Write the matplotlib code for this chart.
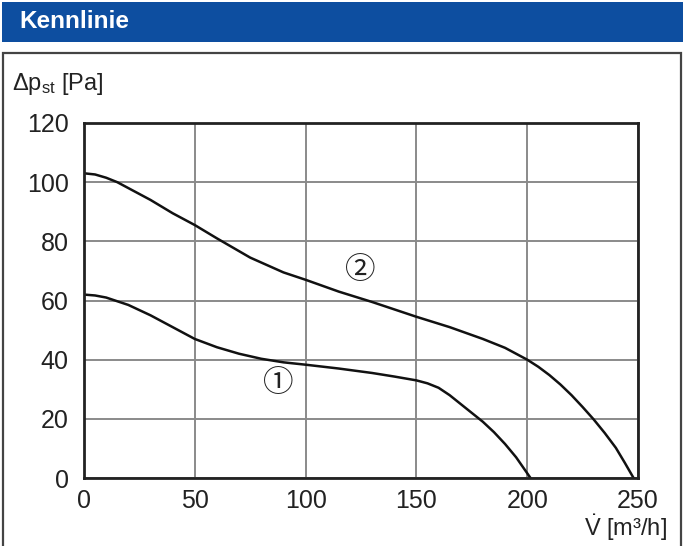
import matplotlib as mpl
import matplotlib.pyplot as plt
from matplotlib.patches import Rectangle

mpl.use('Agg')

plt.rcParams['font.family'] = ['Liberation Sans', 'DejaVu Sans']
plt.rcParams['mathtext.fontset'] = 'custom'
plt.rcParams['mathtext.rm'] = 'Liberation Sans'
plt.rcParams['mathtext.it'] = 'Liberation Sans'

# Kennlinie 1
x_1 = [0, 5, 10, 20, 30, 40, 50, 60, 70, 80, 90, 100, 115, 130, 140, 150, 155, 160, 165, 170,
       175, 180, 185, 190, 195, 201.5]
y_1 = [62, 61.7, 61, 58.5, 55, 51, 47, 44.2, 42, 40.3, 39.1, 38.3, 37, 35.5, 34.3, 33, 32, 30.5,
       28, 25, 22, 19, 15.5, 11.5, 7, 0]

# Kennlinie 2
x_2 = [0, 5, 10, 15, 20, 30, 40, 50, 60, 75, 90, 100, 115, 130, 150, 165, 180, 190, 200, 205,
       210, 215, 220, 225, 230, 235, 240, 244, 248]
y_2 = [103, 102.6, 101.5, 100, 98, 94, 89.5, 85.5, 81, 74.5, 69.5, 67, 63, 59.5, 54.5, 51, 47,
       44, 40, 37.6, 34.8, 31.6, 28, 24, 19.8, 15.2, 10.2, 5.2, 0]

x_ticks = [0, 50, 100, 150, 200, 250]
y_ticks = [0, 20, 40, 60, 80, 100, 120]

fig = plt.figure(figsize=(6.83, 5.46), dpi=100)
W, H = 683, 546

# Kopfzeile
fig.patches.append(Rectangle((2 / W, 1 - 42 / H), 681 / W, 40 / H, transform=fig.transFigure,
                             facecolor='#0d4ea0', edgecolor='none'))
fig.text(19 / W, 1 - 22 / H, 'Kennlinie', color='white', fontsize=17.5, fontweight='bold',
         va='center', ha='left')

# Rahmen
fig.patches.append(Rectangle((3 / W, -0.01), 678 / W, 1 - 53 / H + 0.01, transform=fig.transFigure,
                             facecolor='none', edgecolor='#444444', linewidth=1.6))

ax = fig.add_axes([84 / W, 1 - 478 / H, (638 - 84) / W, (478 - 123) / H])
ax.plot(x_1, y_1, color='#111111', linewidth=1.8)
ax.plot(x_2, y_2, color='#111111', linewidth=1.8)

ax.set_xlim(0, 250)
ax.set_ylim(0, 120)
ax.set_xticks(x_ticks)
ax.set_yticks(y_ticks)
ax.grid(True, color='#8a8a8a', linewidth=1.4)
ax.set_axisbelow(True)
ax.tick_params(length=0, labelsize=18, colors='#222222')
ax.tick_params(axis='x', pad=8)
ax.tick_params(axis='y', pad=11)
for s in ax.spines.values():
    s.set_color('#222222')
    s.set_linewidth(2)

ax.text(124.5, 70.3, '\u2461', fontsize=22, ha='center', va='center', color='#222222',
        family=['Noto Sans CJK JP', 'DejaVu Sans'])
ax.text(87.6, 31.8, '\u2460', fontsize=22, ha='center', va='center', color='#222222',
        family=['Noto Sans CJK JP', 'DejaVu Sans'])

fig.text(12 / W, 1 - 84 / H, r'$\Delta\mathrm{p}_{\mathrm{st}}$ [Pa]', fontsize=17,
         ha='left', va='center', color='#222222')
fig.text(667 / W, 1 - 528 / H, r'$\dot{\mathrm{V}}$ [m³/h]', fontsize=17,
         ha='right', va='center', color='#222222')

plt.savefig('out.png', dpi=100)
